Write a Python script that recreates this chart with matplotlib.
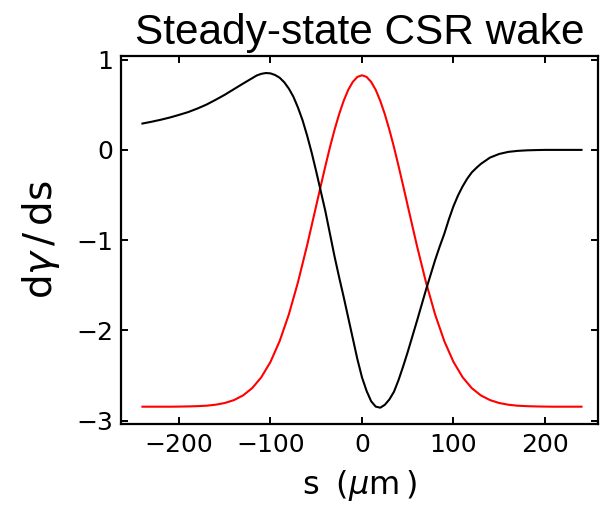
import matplotlib
matplotlib.use("Agg")
import matplotlib.pyplot as plt

# black curve: steady-state CSR wake
wake_s = (list(range(-240, -120, 10)) + list(range(-120, 135, 5))
          + list(range(140, 250, 10)))
wake = [0.292, 0.312, 0.334, 0.359, 0.388, 0.419, 0.458, 0.502, 0.555, 0.611,
        0.673, 0.735,
        0.795, 0.825, 0.843, 0.852, 0.848, 0.83, 0.80, 0.75, 0.68, 0.59,
        0.47, 0.33, 0.16, -0.03, -0.24, -0.46, -0.68, -0.93, -1.18, -1.41,
        -1.63, -1.86, -2.09, -2.32, -2.52, -2.67, -2.785, -2.845, -2.857, -2.825,
        -2.765, -2.68, -2.55, -2.40, -2.24, -2.07, -1.90, -1.725, -1.55, -1.385,
        -1.22, -1.07, -0.93, -0.77, -0.625, -0.505, -0.405, -0.32, -0.25, -0.20,
        -0.155,
        -0.085, -0.045, -0.022, -0.011, -0.005, -0.002, 0.0, 0.0, 0.0, 0.0, 0.0]

# red curve: bunch profile (scaled and shifted)
prof_s = list(range(-240, -50, 10)) + list(range(-50, 55, 5)) + list(range(60, 250, 10))
profile = [-2.846, -2.846, -2.846, -2.846, -2.845, -2.843, -2.840, -2.835, -2.824, -2.805,
           -2.773, -2.721, -2.640, -2.519, -2.349, -2.119, -1.825, -1.468, -1.058,
           -0.618, -0.396, -0.179, 0.030, 0.222, 0.395, 0.544, 0.666, 0.754, 0.809,
           0.827, 0.809, 0.754, 0.666, 0.544, 0.395, 0.222, 0.030, -0.179, -0.396,
           -0.618,
           -1.058, -1.468, -1.825, -2.119, -2.349, -2.519, -2.640, -2.721, -2.773, -2.805,
           -2.824, -2.835, -2.840, -2.843, -2.845, -2.846, -2.846, -2.846, -2.846]

xticks = [-200, -100, 0, 100, 200]
yticks = [-3, -2, -1, 0, 1]

plt.rcParams['mathtext.fontset'] = 'dejavusans'

fig = plt.figure(figsize=(6.04, 5.05), dpi=100)
ax = fig.add_axes([0.201, 0.160, 0.789, 0.729])

ax.plot(prof_s, profile, color='red', lw=1.5)
ax.plot(wake_s, wake, color='black', lw=1.5)

ax.set_xlim(-263, 258)
ax.set_ylim(-3.04, 1.04)
ax.set_xticks(xticks)
ax.set_yticks(yticks)
ax.tick_params(direction='in', length=5, width=1.4, top=True, right=True,
               labelsize=18, pad=6)
for sp in ax.spines.values():
    sp.set_linewidth(1.6)

ax.set_xlabel(r's$\;\;$(${\mu}$m$\,$)', fontsize=23, labelpad=8)
ax.set_ylabel(r'd$\gamma\,$/$\,$ds', fontsize=28, labelpad=10)
ax.set_title('Steady-state CSR wake', fontsize=30.5, family='Liberation Sans', pad=9)

fig.savefig('out.png', dpi=100)
